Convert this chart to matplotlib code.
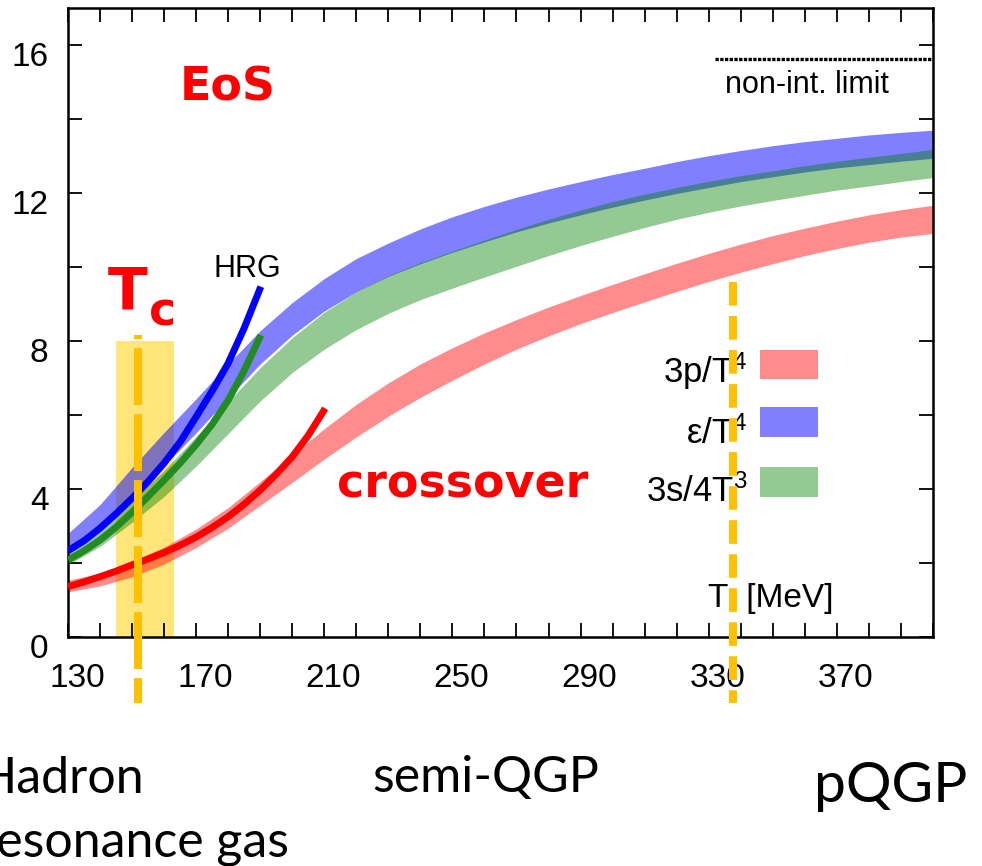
import matplotlib
matplotlib.use("Agg")
import numpy as np
import matplotlib.pyplot as plt
import matplotlib.transforms as mtransforms
from matplotlib.patches import Rectangle

# lattice EoS bands: central value and half width, T in MeV
temps = np.arange(130, 401, 10)

p_mid = [1.38, 1.55, 1.83, 2.20, 2.67, 3.22, 3.88, 4.55, 5.22, 5.85,
         6.42, 6.93, 7.38, 7.80, 8.18, 8.53, 8.85, 9.15, 9.44, 9.72,
         9.99, 10.24, 10.47, 10.68, 10.87, 11.04, 11.18, 11.29]
p_err = [0.16, 0.17, 0.20, 0.23, 0.25, 0.28, 0.32, 0.37, 0.41, 0.44,
         0.45, 0.45, 0.44, 0.42, 0.40, 0.39, 0.38, 0.38, 0.38, 0.38,
         0.38, 0.38, 0.38, 0.37, 0.37, 0.37, 0.37, 0.38]

e_mid = [2.55, 3.25, 4.18, 5.08, 5.98, 6.92, 7.83, 8.60, 9.25, 9.78,
         10.20, 10.56, 10.88, 11.16, 11.42, 11.65, 11.86, 12.06, 12.24, 12.42,
         12.58, 12.73, 12.86, 12.98, 13.08, 13.17, 13.25, 13.32]
e_err = [0.25, 0.33, 0.40, 0.45, 0.46, 0.46, 0.45, 0.44, 0.44, 0.45,
         0.45, 0.47, 0.48, 0.48, 0.47, 0.46, 0.45, 0.44, 0.43, 0.43,
         0.43, 0.42, 0.42, 0.41, 0.40, 0.40, 0.39, 0.38]

s_mid = [2.20, 2.72, 3.40, 4.15, 5.02, 5.93, 6.83, 7.62, 8.28, 8.82,
         9.26, 9.62, 9.93, 10.23, 10.52, 10.80, 11.06, 11.30, 11.52, 11.72,
         11.90, 12.06, 12.20, 12.34, 12.47, 12.58, 12.69, 12.80]
s_err = [0.25, 0.27, 0.30, 0.35, 0.40, 0.43, 0.45, 0.47, 0.50, 0.51,
         0.51, 0.50, 0.50, 0.50, 0.50, 0.49, 0.48, 0.47, 0.45, 0.43,
         0.42, 0.41, 0.40, 0.40, 0.39, 0.39, 0.38, 0.38]

# hadron resonance gas curves
hrg_T = [130, 135, 140, 145, 150, 155, 160, 165, 170, 175, 180, 185, 190.2]
hrg_e = [2.33, 2.60, 2.94, 3.33, 3.75, 4.20, 4.70, 5.27, 5.95, 6.65, 7.40, 8.35, 9.47]
hrg_s = [2.08, 2.33, 2.62, 2.97, 3.37, 3.80, 4.24, 4.70, 5.20, 5.75, 6.40, 7.20, 8.16]
hrg_p_T = [130, 135, 140, 145, 150, 155, 160, 165, 170, 175, 180, 185,
           190, 195, 200, 205, 210.3]
hrg_p = [1.36, 1.49, 1.63, 1.78, 1.95, 2.11, 2.28, 2.48, 2.70, 2.96, 3.25, 3.59,
         3.97, 4.40, 4.87, 5.45, 6.18]

sb_limit = 15.63
sb_range = [332, 400]
tc_band = [145, 163]
tc_band_top = 8
tc_line = 151.8
hot_line = 337.7

band_labels = ["3p/T$^4$", "\u03b5/T$^4$", "3s/4T$^3$"]
band_colors = [("red", 0.45), ("blue", 0.5), ("green", 0.42)]

plt.rcParams["font.family"] = ["Liberation Sans", "DejaVu Sans"]
plt.rcParams["mathtext.default"] = "regular"
plt.rcParams["lines.scale_dashes"] = False

fig = plt.figure(figsize=(9.82, 8.66), dpi=100)
ax = fig.add_axes([0.0692, 0.2644, 0.8809, 0.7263])

ax.add_patch(Rectangle((tc_band[0], 0), tc_band[1] - tc_band[0], tc_band_top,
                       facecolor="#FFE57A", edgecolor="none", zorder=1))

bands = [(p_mid, p_err, "red", 0.45), (e_mid, e_err, "blue", 0.5),
         (s_mid, s_err, "green", 0.42)]
for mid, err, c, a in bands:
    mid, err = np.array(mid), np.array(err)
    ax.fill_between(temps, mid - err, mid + err, color=c, alpha=a, lw=0, zorder=2)

ax.plot(hrg_T, hrg_e, color="blue", lw=5, solid_capstyle="butt", zorder=3)
ax.plot(hrg_T, hrg_s, color="forestgreen", lw=5, solid_capstyle="butt", zorder=3)
ax.plot(hrg_p_T, hrg_p, color="red", lw=5, solid_capstyle="butt", zorder=3)

ax.plot(sb_range, [sb_limit, sb_limit], color="black", lw=2.4,
        linestyle=(0, (2.4, 1.0)), zorder=3)
ax.text(0.7595, 0.865, "non-int. limit", transform=ax.transAxes, fontsize=22)

# legend boxes, drawn by hand so the labels sit right-aligned
box_y = [0.410, 0.318, 0.223]
text_y = [0.404, 0.308, 0.215]
for lab, (c, a), by, ty in zip(band_labels, band_colors, box_y, text_y):
    ax.add_patch(Rectangle((0.80, by), 0.067, 0.047, transform=ax.transAxes,
                           facecolor=c, alpha=a, edgecolor="none", zorder=2))
    ax.text(0.786, ty, lab, transform=ax.transAxes, ha="right", va="baseline",
            fontsize=25, zorder=2)

ax.text(0.74, 0.048, "T  [MeV]", transform=ax.transAxes, fontsize=24, va="baseline")
ax.text(175.3, 9.73, "HRG", fontsize=22, va="baseline")

ax.text(165, 14.5, "EoS", color="red", fontsize=33, fontweight="bold",
        family=["DejaVu Sans"], va="baseline")
ax.text(214, 3.78, "crossover", color="red", fontsize=33, fontweight="bold",
        family=["DejaVu Sans"], va="baseline", zorder=5)
ax.text(142.5, 8.84, "T", color="red", fontsize=42, fontweight="bold",
        family=["DejaVu Sans"], va="baseline", zorder=6)
ax.text(155.3, 8.43, "c", color="red", fontsize=33, fontweight="bold",
        family=["DejaVu Sans"], va="baseline", zorder=6)

# Tc and high-T markers run past the frame
ax.plot([tc_line, tc_line], [8.16, -1.78], color="#FFC000", lw=5.8,
        linestyle=(38, (41, 6.5)), dash_capstyle="butt", clip_on=False, zorder=5)
ax.plot([hot_line, hot_line], [9.6, -1.78], color="#FFC000", lw=5.8,
        linestyle=(0, (17, 7.5)), dash_capstyle="butt", clip_on=False, zorder=5)

ax.set_xlim(130, 400)
ax.set_ylim(0, 17)
ax.set_xticks(range(130, 400, 40))
ax.set_xticks(range(130, 401, 10), minor=True)
ax.set_yticks(range(0, 17, 4))
ax.set_yticks(range(0, 17, 2), minor=True)
ax.tick_params(which="both", direction="in", top=True, right=True,
               length=10, width=1.3, labelsize=24)
ax.tick_params(axis="y", pad=14)
ax.tick_params(axis="x", pad=19)
for sp in ax.spines.values():
    sp.set_linewidth(1.8)

down = mtransforms.ScaledTranslation(0, -0.09, fig.dpi_scale_trans)
right = mtransforms.ScaledTranslation(0.09, 0, fig.dpi_scale_trans)
for lab in ax.get_yticklabels():
    lab.set_transform(lab.get_transform() + down)
for lab in ax.get_xticklabels():
    lab.set_transform(lab.get_transform() + right)

# phase labels under the plot
fig.text(-22 / 982, 1 - 793 / 866, "Hadron", fontsize=36, family=["Lato"],
         va="baseline")
fig.text(-22 / 982, 1 - 857 / 866, "resonance gas", fontsize=36, family=["Lato"],
         va="baseline")
fig.text(372 / 982, 1 - 792 / 866, "semi-QGP", fontsize=36, family=["Lato"],
         va="baseline")
fig.text(814 / 982, 1 - 802 / 866, "pQGP", fontsize=41, family=["Lato"],
         va="baseline")

fig.savefig("out.png", dpi=100)
